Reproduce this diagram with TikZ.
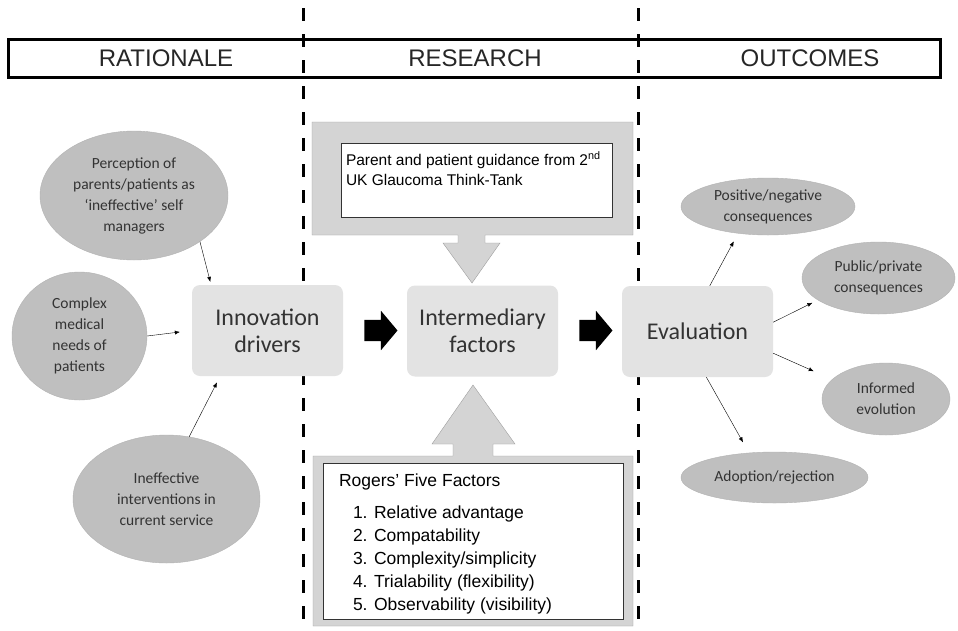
\documentclass[tikz,border=0pt]{standalone}
\usepackage{fontspec}
\setmainfont{Liberation Sans}
\newfontfamily\calibri{Carlito}
\usetikzlibrary{shapes.geometric,shapes.arrows,arrows.meta}

\begin{document}
\begin{tikzpicture}[
        x=1pt, y=-1pt,
        driver/.style={ellipse, fill=gray!50, draw=gray!60, thin, inner sep=0pt, align=center, text=black!80, font=\calibri\fontsize{15.5}{21}\selectfont},
        stage/.style={fill=gray!22, rounded corners=8pt, minimum width=151pt, minimum height=91pt, align=center, text=black!80, font=\calibri\fontsize{24}{27}\selectfont},
        push/.style={single arrow, fill=black, inner sep=0pt, inner ysep=10.5pt, minimum height=33pt, single arrow head extend=9pt, single arrow tip angle=100},
        link/.style={-{Latex[length=5pt,width=4pt]}, thin},
        callout/.style={fill=gray!34, draw=gray!75, thin},
        paper/.style={fill=white, draw=black!80, thin, inner sep=0pt},
    ]

    % Seite
    \useasboundingbox (0,0) rectangle (958,630);
    \fill[white] (0,0) rectangle (958,630);

    % Kopfleiste mit den drei Phasen
    \draw[line width=3pt] (8,39) rectangle (940,77);
    \foreach \x/\lbl in {166/RATIONALE, 475/RESEARCH, 810/OUTCOMES} {
        \node[font=\fontsize{24}{28}\selectfont, text=black!85] (head-\lbl) at (\x,58) {\lbl};
    }

    % Trennlinien zwischen den Phasen
    \foreach \x in {303,638} {
        \draw[line width=3pt, dash pattern=on 13pt off 13pt] (\x,8) -- (\x,630);
    }

    % Sprechblase oben (Pfeil nach unten)
    \draw[callout] (312,122) -- (633,122) -- (633,235) -- (485,235) -- (485,243) -- (500,243)
        -- (472,283) -- (443,243) -- (458,243) -- (458,235) -- (312,235) -- cycle;
    \node[paper, minimum width=271pt, minimum height=74pt] (guide) at (476.5,180) {};
    \node[anchor=north west, align=left, inner sep=0pt, font=\fontsize{15.5}{20}\selectfont]
        (guidetxt) at ([xshift=5pt,yshift=-9pt]guide.north west)
        {Parent and patient guidance from 2\textsuperscript{nd}\\UK Glaucoma Think-Tank};

    % Sprechblase unten (Pfeil nach oben)
    \draw[callout] (313,626) -- (313,456) -- (453,456) -- (453,444) -- (432,444) -- (473,385)
        -- (515,444) -- (493,444) -- (493,456) -- (633,456) -- (633,626) -- cycle;
    \node[paper, minimum width=300pt, minimum height=156pt] (rogers) at (473,541) {};
    \node[anchor=north west, align=left, inner sep=0pt, font=\fontsize{17.5}{23}\selectfont]
        (rogerstxt) at ([xshift=16pt,yshift=-11pt]rogers.north west)
        {Rogers’ Five Factors\\[9pt]
         \hspace*{14pt}1. Relative advantage\\
         \hspace*{14pt}2. Compatability\\
         \hspace*{14pt}3. Complexity/simplicity\\
         \hspace*{14pt}4. Trialability (flexibility)\\
         \hspace*{14pt}5. Observability (visibility)};

    % Hauptkette
    \node[stage] (innov) at (267.5,330.5) {Innovation\\drivers};
    \node[stage] (inter) at (482.5,331) {Intermediary\\factors};
    \node[stage] (eval)  at (697.5,331.5) {Evaluation};
    \node[push] (push1) at (376.5,330.5) {};
    \node[push] (push2) at (591.5,330.5) {};

    % Ausloeser links
    \node[driver, minimum width=188pt, minimum height=129pt] (perc) at (134,195.5)
        {Perception of\\parents/patients as\\‘ineffective’ self\\managers};
    \node[driver, minimum width=135pt, minimum height=128pt] (cmplx) at (79.5,336)
        {Complex\\medical\\needs of\\patients};
    \node[driver, minimum width=187pt, minimum height=128pt] (inef) at (166.5,499)
        {Ineffective\\interventions in\\current service};

    % Ergebnisse rechts
    \node[driver, minimum width=174pt, minimum height=57pt] (pos) at (768,206.5)
        {Positive/negative\\consequences};
    \node[driver, minimum width=153pt, minimum height=72pt] (pub) at (878.5,278)
        {Public/private\\consequences};
    \node[driver, minimum width=128pt, minimum height=72pt] (inf) at (886,399)
        {Informed\\evolution};
    \node[driver, minimum width=187pt, minimum height=51pt] (adop) at (774.5,477.5)
        {Adoption/rejection};

    % Verbindungen
    \draw[link, shorten >=3pt] (perc.-35) -- (innov.141);
    \draw[link, shorten >=12pt] (cmplx.east) -- (innov.west);
    \draw[link, shorten >=7pt] (inef.70) -- (innov.-136);

    \draw[link, shorten >=9pt] (eval.75) -- (pos.-138);
    \draw[link, shorten >=6pt] (eval.7) -- (pub.-160);
    \draw[link, shorten >=20pt] (eval.-16) -- (inf.160);
    \draw[link, shorten >=12pt] (eval.-79) -- (adop.136);

\end{tikzpicture}
\end{document}
